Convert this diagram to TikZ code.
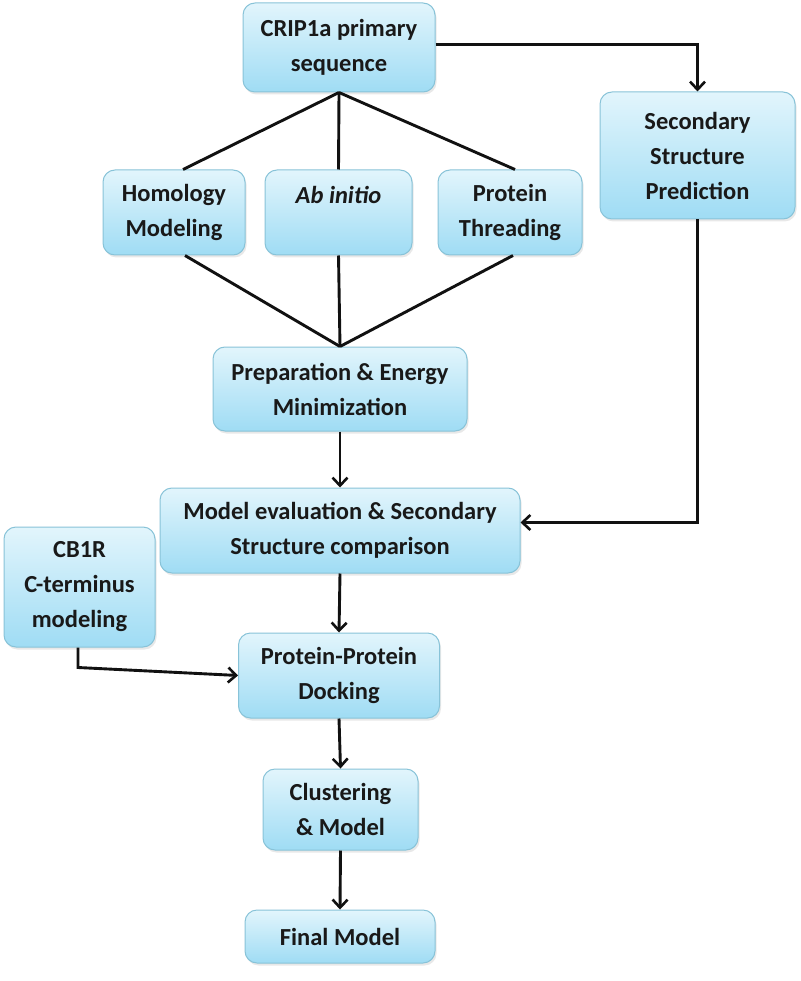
\documentclass[tikz,border=0pt]{standalone}
\usepackage{fontspec}
\setmainfont{Carlito}
\usetikzlibrary{arrows.meta,shadows,calc}
\definecolor{boxtop}{HTML}{E2F5FC}
\definecolor{boxbot}{HTML}{9FDCF4}
\definecolor{boxedge}{HTML}{88C3D8}
\definecolor{ln}{HTML}{111111}
\tikzset{
  box/.style={draw=boxedge, line width=1pt, rounded corners=12pt,
    top color=boxtop, bottom color=boxbot, align=center,
    font=\fontsize{24.5}{35}\selectfont\bfseries, text=black!90,
    inner sep=0pt,
    drop shadow={opacity=0.18, shadow xshift=1.5pt, shadow yshift=-2.5pt}},
  conn/.style={draw=ln, line width=2.9pt},
  arr/.style={conn, -{Straight Barb[length=8pt,width=15pt,line width=2.6pt]}}
}
\begin{document}
\begin{tikzpicture}[x=1pt,y=-1pt]
\useasboundingbox (0,0) rectangle (800,981);
\fill[white] (0,0) rectangle (800,981);

\node[box, minimum width=192pt, minimum height=89pt] (crip) at (339,47.5) {CRIP1a primary\\sequence};
\node[box, minimum width=195pt, minimum height=127pt] (sec) at (697.5,155.5) {Secondary\\Structure\\Prediction};
\node[box, minimum width=142pt, minimum height=85pt] (hom) at (174,212.5) {Homology\\Modeling};
\node[box, minimum width=147pt, minimum height=85pt] (abi) at (338.5,212.5) {\textit{Ab initio}\\\mbox{}};
\node[box, minimum width=144pt, minimum height=85pt] (thr) at (510,212.5) {Protein\\Threading};
\node[box, minimum width=254pt, minimum height=84pt] (prep) at (340,389) {Preparation \& Energy\\Minimization};
\node[box, minimum width=360pt, minimum height=85pt] (eval) at (340,530.5) {Model evaluation \& Secondary\\Structure comparison};
\node[box, minimum width=151pt, minimum height=120pt] (cb1r) at (79.5,587) {CB1R\\C-terminus\\modeling};
\node[box, minimum width=201pt, minimum height=85pt] (dock) at (339,675.5) {Protein-Protein\\Docking};
\node[box, minimum width=155pt, minimum height=81pt] (clus) at (340.5,809.5) {Clustering\\\& Model};
\node[box, minimum width=190pt, minimum height=53pt] (final) at (340,936.5) {Final Model};

% top fan-out
\draw[conn] (crip.south) -- ($(hom.north)+(9,0)$);
\draw[conn] (crip.south) -- (abi.north);
\draw[conn] (crip.south) -- ($(thr.north)+(5,0)$);
% fan-in
\draw[conn] ($(hom.south)+(11,0)$) -- (prep.north);
\draw[conn] (abi.south) -- (prep.north);
\draw[conn] ($(thr.south)+(3,0)$) -- (prep.north);

\draw[arr] ($(crip.east)+(0,-3)$) -| (sec.north);
\draw[arr] (sec.south) |- ($(eval.east)+(0,-8)$);
\draw[arr] (prep.south) -- (eval.north);
\draw[arr] (eval.south) -- (dock.north);
\coordinate (bend) at ($(cb1r.south)+(-1.5,20)$);
\draw[arr] ($(cb1r.south)+(-1.5,0)$) -- (bend) -- (dock.west);
\draw[arr] (dock.south) -- (clus.north);
\draw[arr] (clus.south) -- (final.north);
\end{tikzpicture}
\end{document}
